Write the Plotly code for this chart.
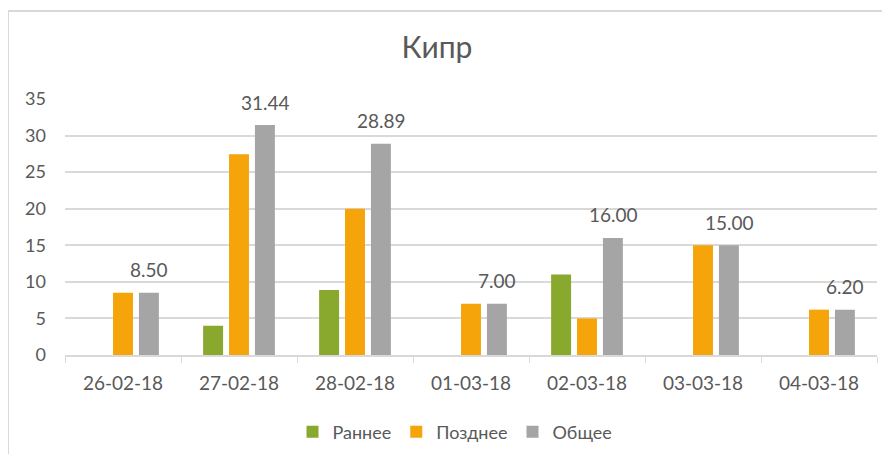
import plotly.graph_objects as go

categories = ["26-02-18", "27-02-18", "28-02-18", "01-03-18", "02-03-18", "03-03-18", "04-03-18"]
early = [None, 4.0, 8.89, None, 11.0, None, None]
late = [8.5, 27.44, 20.0, 7.0, 5.0, 15.0, 6.2]
total = [8.5, 31.44, 28.89, 7.0, 16.0, 15.0, 6.2]
series_names = ["Раннее", "Позднее", "Общее"]
colors = ["#88A92E", "#F5A509", "#A5A5A5"]

FONT = "Lato"
TXT = "#595959"

OFF = 8  # page body margin
W, H = 890, 454
# desired screen positions of the plot area
SX0, SX1, SY0, SY1 = 65, 877, 99, 355
L = SX0 - OFF
T = SY0 - OFF
R = W - (SX1 - OFF)
B = H - (SY1 - OFF)
pw, ph = W - L - R, H - T - B


def px_x(p):
    return (p - OFF - L) / pw


def px_y(p):
    return (H - B - (p - OFF)) / ph


fig = go.Figure()
for name, vals, c in zip(series_names, [early, late, total], colors):
    fig.add_trace(go.Bar(x=categories, y=vals, name=name, marker_color=c,
                         marker_line_width=0))

for cat, v in zip(categories, total):
    fig.add_annotation(x=cat, y=v, text=f"{v:.2f}", showarrow=False,
                       xref="x", yref="y", xshift=26, yshift=23,
                       font=dict(family=FONT, size=19, color=TXT))

# frame lines (top and left edges of chart area)
fig.add_shape(type="line", xref="paper", yref="paper",
              x0=px_x(8), x1=px_x(900), y0=px_y(11), y1=px_y(11),
              line=dict(color="#D9D9D9", width=2))
fig.add_shape(type="line", xref="paper", yref="paper",
              x0=px_x(8), x1=px_x(8), y0=px_y(11), y1=px_y(470),
              line=dict(color="#D9D9D9", width=2))

fig.update_layout(
    width=W, height=H,
    margin=dict(l=L, r=R, t=T, b=B, autoexpand=False),
    paper_bgcolor="white", plot_bgcolor="white",
    barmode="group", bargap=0.33, bargroupgap=0.23,
    title=dict(text="Кипр", x=(437 - OFF) / W, xanchor="center",
               y=1 - (47 - OFF) / H, yanchor="middle",
               font=dict(family=FONT, size=30, color=TXT)),
    font=dict(family=FONT, color=TXT),
    showlegend=True,
    legend=dict(orientation="h", x=px_x(455), xanchor="center",
                y=px_y(432), yanchor="middle",
                font=dict(family=FONT, size=18, color=TXT),
                itemwidth=30, tracegroupgap=0),
    xaxis=dict(type="category", automargin=False, showgrid=False, showline=True,
               linecolor="#D9D9D9", linewidth=1.5,
               ticks="outside", tickson="boundaries", ticklen=6, tickcolor="#D9D9D9",
               ticklabelstandoff=10,
               tickfont=dict(family=FONT, size=19, color=TXT), fixedrange=True),
    yaxis=dict(range=[0, 35], dtick=5, automargin=False, showgrid=True,
               gridcolor="#D9D9D9", gridwidth=1.5,
               zeroline=False, showline=False, ticks="",
               tickfont=dict(family=FONT, size=18, color=TXT), ticklabelstandoff=18),
)

fig.write_html("out.html")
